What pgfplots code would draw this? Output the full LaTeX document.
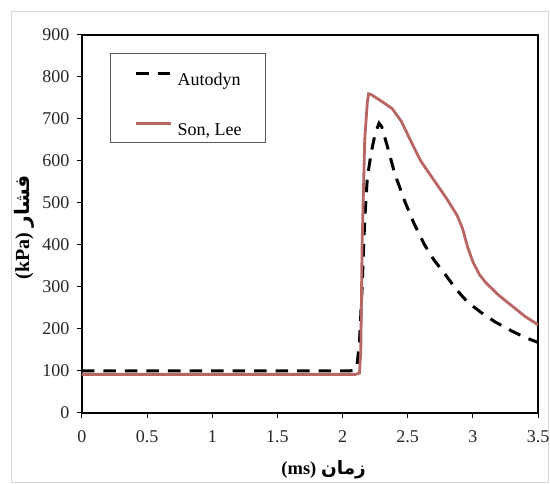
\documentclass[border=0pt]{standalone}
\usepackage{pgfplots}
\pgfplotsset{compat=1.18}
\usepackage{fontspec}
\setmainfont{Liberation Serif}
\newfontfamily\arabicfont[Script=Arabic]{DejaVu Sans}
\TeXXeTstate=1
\definecolor{sonlee}{RGB}{184,102,100}
\definecolor{framegray}{RGB}{215,215,215}
\begin{document}
\begin{tikzpicture}[x=1pt,y=1pt]
\useasboundingbox (0,0) rectangle (550,484);
\draw[framegray, line width=1pt] (11,1) rectangle (548,472);
\begin{axis}[
  at={(82pt,71pt)}, anchor=south west,
  scale only axis, width=456pt, height=378pt,
  xmin=0, xmax=3.5, ymin=0, ymax=900,
  xtick={0,0.5,...,3.5}, ytick={0,100,...,900},
  axis line style={black, line width=1.2pt},
  tick style={black, line width=1pt},
  tick align=outside, major tick length=5pt,
  xtick pos=bottom, ytick pos=left,
  /pgf/number format/assume math mode=true,
  ticklabel style={font=\fontsize{18}{18}\selectfont, text=black!85},
  xticklabel style={yshift=-9pt},
  yticklabel style={xshift=-4pt},
  xlabel={\bfseries (ms) {\arabicfont\bfseries\beginR زمان\endR}},
  ylabel={\bfseries (kPa) {\arabicfont\bfseries\beginR فشار\endR}},
  xlabel style={font=\fontsize{18.5}{19}\selectfont, at={(axis description cs:0.53,-0.151)}, anchor=center},
  ylabel style={font=\fontsize{20}{20}\selectfont, at={(axis description cs:-0.127,0.492)}, anchor=center, rotate=0},
  legend cell align=left,
  legend style={at={(0.0614,0.952)}, anchor=north west,
    draw=black!65, line width=1.2pt,
    font=\fontsize{18}{18}\selectfont,
    inner xsep=24pt, inner ysep=4pt, row sep=19pt, column sep=5pt,
    nodes={inner sep=0pt, text height=28pt, text depth=3pt}},
  legend image code/.code={\draw[#1] (0pt,0pt) -- (35pt,0pt);},
]
\addplot[black, line width=3pt, dash pattern=on 12.5pt off 9pt] coordinates {
(0,100) (2.05,100) (2.09,102) (2.11,110) (2.13,170) (2.15,300) (2.17,460) (2.19,560)
(2.22,620) (2.25,665) (2.28,690) (2.30,682) (2.35,628) (2.40,570) (2.48,502) (2.55,450)
(2.63,400) (2.70,365) (2.79,329) (2.87,295) (2.96,264) (3.06,240) (3.17,217) (3.30,195)
(3.40,180) (3.50,168)};
\addlegendentry{Autodyn}
\addplot[sonlee, line width=2.8pt] coordinates {
(0,92) (2.10,92) (2.13,95) (2.14,150) (2.15,400) (2.17,650) (2.19,740) (2.20,760)
(2.22,758) (2.30,742) (2.38,725) (2.45,695) (2.52,650) (2.60,600) (2.70,555) (2.80,510)
(2.88,470) (2.92,440) (2.96,395) (3.00,360) (3.05,330) (3.10,310) (3.20,280) (3.30,255)
(3.40,230) (3.50,210)};
\addlegendentry{Son, Lee}
\end{axis}
\end{tikzpicture}
\end{document}
